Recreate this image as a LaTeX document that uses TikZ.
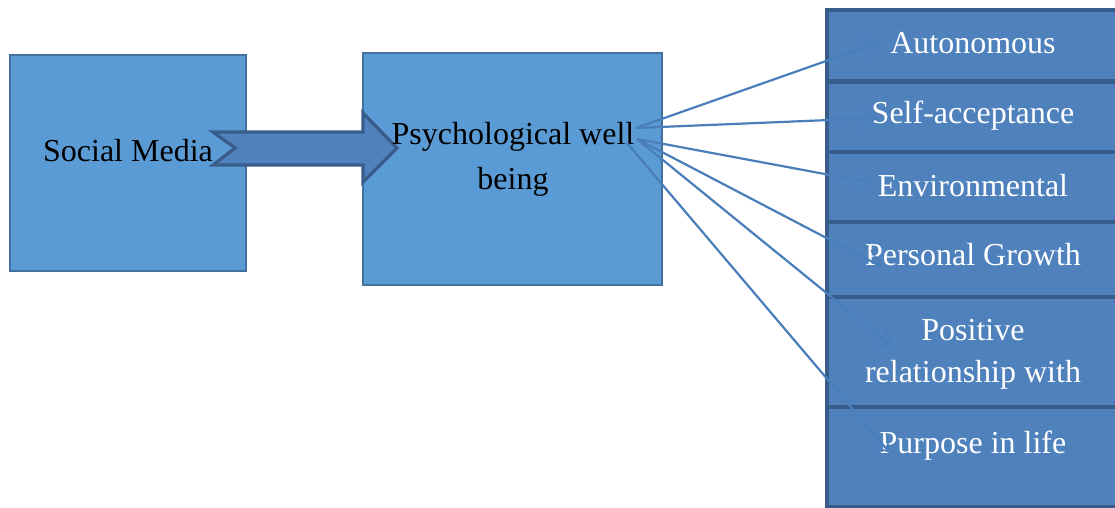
\documentclass[tikz,border=0pt]{standalone}
\usepackage{fontspec}
\setmainfont{Liberation Serif}
\usetikzlibrary{arrows.meta}
\definecolor{lightfill}{HTML}{5B9BD5}
\definecolor{lightline}{HTML}{41719C}
\definecolor{darkfill}{HTML}{4F81BD}
\definecolor{darkline}{HTML}{385D8A}
\definecolor{conn}{HTML}{4A7EBB}
\tikzset{
  px/.style={x=0.5pt,y=-0.5pt},
  bigbox/.style={draw=lightline,fill=lightfill,line width=1.2pt,inner sep=0pt},
  facetbox/.style={draw=darkline,fill=darkfill,line width=2pt},
  blacktxt/.style={font=\fontsize{16}{22.5}\selectfont,text=black,align=center,inner sep=0pt},
  whitetxt/.style={font=\fontsize{16}{21}\selectfont,text=white,align=center,inner sep=0pt},
  link/.style={draw=conn,line width=1.1pt,-{Straight Barb[length=8pt,width=10pt,line width=0.8pt]}},
}
\begin{document}
\begin{tikzpicture}[px]
\clip (0,0) rectangle (1115,508);
\fill[white] (0,0) rectangle (1115,508);
% boxes
\node[bigbox,minimum width=118pt,minimum height=108pt] (sm) at (128,163) {};
\node[bigbox,minimum width=149.5pt,minimum height=116pt] (pwb) at (512.5,169) {};
% block arrow
\draw[fill=darkfill,draw=darkline,line width=1.6pt,line join=miter]
  (213,132) -- (363,132) -- (363,113) -- (397,148) -- (363,182) -- (363,165) -- (213,165) -- (235,148) -- cycle;
\node[blacktxt] (smt) at (128,151) {Social Media};
\node[blacktxt] (pwbt) at (513,159) {Psychological well\\being};
% facet boxes
\draw[facetbox] (827,10) rectangle (1130,81);
\draw[facetbox] (827,82) rectangle (1130,152);
\draw[facetbox] (827,152) rectangle (1130,222);
\draw[facetbox] (827,222) rectangle (1130,297);
\draw[facetbox] (827,297) rectangle (1130,407);
\draw[facetbox] (827,407) rectangle (1130,507);
\node[whitetxt] (f1) at (973,43) {Autonomous};
\node[whitetxt] (f2) at (973,116) {Self-acceptance};
\node[whitetxt] (f3) at (973,186) {Environmental};
\node[whitetxt] (f4) at (973,255) {Personal Growth};
\node[whitetxt] (f5) at (973,354) {Positive\\relationship with};
\node[whitetxt] (f6) at (973,446) {Purpose in life};
% connector endpoints
\coordinate (s1) at (636,128);
\coordinate (s2) at (637,139);
\coordinate (s3) at (627,143);
\coordinate (e1) at (880,42);
\coordinate (e2) at (878,118);
\coordinate (e3) at (873,183);
\coordinate (e4) at (882,267);
\coordinate (e5) at (893,347);
\coordinate (e6) at (890,453);
\draw[link] (s1) -- (e1);
\draw[link] (s1) -- (e2);
\draw[link] (s2) -- (e3);
\draw[link] (s2) -- (e4);
\draw[link] (s2) -- (e5);
\draw[link] (s3) -- (e6);
\end{tikzpicture}
\end{document}
